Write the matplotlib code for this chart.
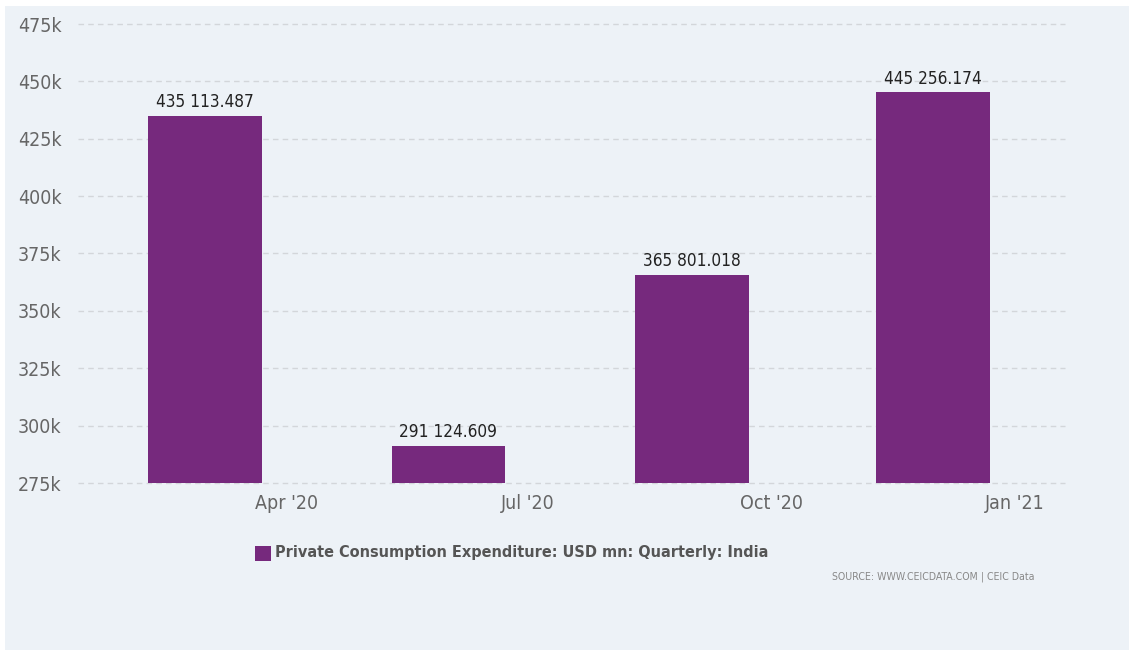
import matplotlib.pyplot as plt
import matplotlib.dates as mdates
from matplotlib.patches import Rectangle
import numpy as np
import pandas as pd

# Quarterly private consumption expenditure, India (USD mn)
periods = ['2020-03-01', '2020-06-01', '2020-09-01', '2020-12-01']
values = [435113.487, 291124.609, 365801.018, 445256.174]
tick_dates = ['2020-04-01', '2020-07-01', '2020-10-01', '2021-01-01']
tick_labels = ["Apr '20", "Jul '20", "Oct '20", "Jan '21"]
y_ticks = [275000, 300000, 325000, 350000, 375000, 400000, 425000, 450000, 475000]

series_name = 'Private Consumption Expenditure: USD mn: Quarterly: India'
bar_color = '#76297d'
bg_color = '#edf2f7'

plt.rcParams['font.family'] = ['DejaVu Sans']
plt.rcParams['font.stretch'] = 'condensed'

W, H = 1129, 652
fig = plt.figure(figsize=(W / 100, H / 100), dpi=100, facecolor='white')
fig.patches.append(Rectangle((5 / W, 2 / H), 1 - 5 / W, 644 / H,
                             transform=fig.transFigure, facecolor=bg_color,
                             edgecolor='none', zorder=-5))

ax = fig.add_axes([78 / W, 1 - 483 / H, (1065 - 78) / W, (483 - 24) / H])
ax.set_zorder(2)
ax.set_facecolor('none')

x = mdates.date2num(pd.to_datetime(periods))
ax.bar(x, values, width=43, color=bar_color, zorder=3, bottom=0)

for xi, v in zip(x, values):
    txt = f'{v:,.3f}'.replace(',', ' ')
    ax.text(xi, v + 2000, txt, ha='center', va='bottom', fontsize=12.3,
            color='#222222', zorder=4)

ax.set_ylim(275000, 475000)
ax.set_xlim(mdates.date2num(pd.Timestamp('2020-01-13')),
            mdates.date2num(pd.Timestamp('2021-01-20')))

ax.set_yticks(y_ticks)
ax.set_yticklabels([f'{int(t / 1000)}k' for t in y_ticks])
ax.set_xticks(mdates.date2num(pd.to_datetime(tick_dates)))
ax.set_xticklabels(tick_labels)

ax.tick_params(axis='both', length=0, labelsize=14, labelcolor='#666666')
ax.tick_params(axis='y', pad=12)
ax.tick_params(axis='x', pad=8)

ax.grid(axis='y', color='#d3d6da', linestyle=(0, (4, 3)), linewidth=1, zorder=1)
for gl in ax.get_ygridlines():
    gl.set_clip_on(False)
for s in ax.spines.values():
    s.set_visible(False)

# legend entry below the plot
fig.patches.append(Rectangle((255 / W, 1 - 561 / H), 16 / W, 15 / H,
                             transform=fig.transFigure, facecolor=bar_color,
                             edgecolor='none', zorder=2))
fig.text(275 / W, 1 - 553 / H, series_name, ha='left', va='center',
         fontsize=11.6, fontweight='bold', color='#555555')

fig.text(1035 / W, 1 - 577 / H, 'SOURCE: WWW.CEICDATA.COM | CEIC Data',
         ha='right', va='center', fontsize=7.6, color='#888888')

fig.savefig('out.png', dpi=100, facecolor='white')
